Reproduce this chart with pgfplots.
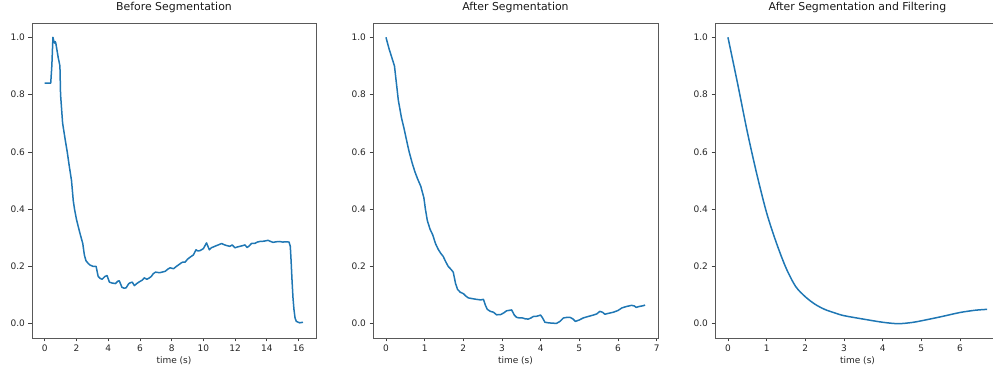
\documentclass[border=0pt]{standalone}
\usepackage{fontspec}
\setmainfont{DejaVu Sans}
\usepackage{pgfplots}
\pgfplotsset{compat=1.18}
\definecolor{mplblue}{HTML}{1F77B4}
\pgfplotsset{mystyle/.style={
  scale only axis, height=315pt, anchor=south west,
  axis line style={black!65, line width=0.7pt},
  every tick/.style={black!75, line width=0.7pt},
  tick align=outside, major tick length=3.5pt,
  xtick pos=bottom, ytick pos=left,
  ymin=-0.05, ymax=1.05,
  ytick={0,0.2,0.4,0.6,0.8,1.0},
  yticklabel style={/pgf/number format/.cd, fixed, fixed zerofill, precision=1},
  /pgf/number format/assume math mode=true,
  ticklabel style={font=\fontsize{9}{10}\selectfont, text=black!85},
  title style={font=\fontsize{10.9}{12}\selectfont, text=black!90, at={(0.5,1)}, anchor=base, yshift=6pt},
  xlabel={time (s)},
  xlabel style={font=\fontsize{9}{10}\selectfont, text=black!85, at={(0.5,0)}, anchor=base, yshift=-26pt},
  every axis plot post/.append style={mplblue, line width=1.5pt, line join=round, mark=none},
}}
\begin{document}
\begin{tikzpicture}
\path[use as bounding box] (0,0) rectangle (993pt,371pt);
\begin{axis}[mystyle, at={(32pt,33pt)}, width=284pt,
  title={Before Segmentation},
  xmin=-0.8, xmax=17.1, xtick={0,2,...,16}]
\addplot coordinates {
(0,0.84) (0.2,0.84) (0.38,0.84) (0.45,0.9) (0.52,1.0) (0.58,0.985) (0.62,0.98) (0.66,0.985) (0.7,0.98)
(0.85,0.93) (0.96,0.9) (1.0,0.8) (1.13,0.7) (1.3,0.64) (1.42,0.6) (1.55,0.55) (1.69,0.5) (1.8,0.43) (1.88,0.4)
(2.0,0.365) (2.11,0.34) (2.25,0.31) (2.4,0.28) (2.5,0.24) (2.6,0.22) (2.75,0.21) (2.85,0.205) (3.05,0.2) (3.24,0.2)
(3.37,0.165) (3.5,0.158) (3.62,0.155) (3.8,0.165) (3.93,0.168) (4.08,0.145) (4.25,0.142) (4.46,0.14) (4.6,0.148) (4.7,0.15)
(4.87,0.127) (5.0,0.124) (5.13,0.125) (5.3,0.14) (5.4,0.143) (5.52,0.145) (5.65,0.133) (5.85,0.142) (6.02,0.148) (6.15,0.152)
(6.28,0.16) (6.44,0.155) (6.6,0.16) (6.72,0.165) (6.85,0.175) (6.99,0.18) (7.24,0.178) (7.4,0.18) (7.6,0.183) (7.75,0.19)
(7.9,0.195) (8.12,0.192) (8.3,0.2) (8.43,0.205) (8.6,0.212) (8.7,0.215) (8.85,0.215) (9.0,0.225) (9.16,0.232) (9.37,0.24)
(9.54,0.258) (9.65,0.254) (9.79,0.255) (10.0,0.262) (10.2,0.282) (10.38,0.258) (10.5,0.265) (10.63,0.268) (10.8,0.272)
(10.94,0.275) (11.15,0.28) (11.3,0.276) (11.46,0.273) (11.67,0.27) (11.82,0.275) (11.99,0.265) (12.15,0.268) (12.3,0.27)
(12.45,0.272) (12.62,0.275) (12.76,0.266) (12.9,0.272) (13.03,0.28) (13.24,0.28) (13.4,0.285) (13.56,0.287) (13.8,0.288)
(14.08,0.291) (14.2,0.288) (14.39,0.284) (14.6,0.286) (14.81,0.287) (15.0,0.285) (15.23,0.286) (15.4,0.285) (15.48,0.27)
(15.53,0.22) (15.59,0.15) (15.65,0.09) (15.71,0.05) (15.78,0.02) (15.86,0.008) (16.07,0.003) (16.28,0.005) };
\end{axis}
\begin{axis}[mystyle, at={(373pt,33pt)}, width=285pt,
  title={After Segmentation},
  xmin=-0.335, xmax=7.035, xtick={0,1,...,7}]
\addplot coordinates {
(0,1.0) (0.08,0.96) (0.15,0.93) (0.22,0.9) (0.27,0.84) (0.32,0.78) (0.4,0.72) (0.47,0.68) (0.55,0.63) (0.6,0.6)
(0.68,0.56) (0.75,0.53) (0.82,0.505) (0.9,0.48) (0.98,0.44) (1.02,0.4) (1.07,0.36) (1.14,0.33) (1.21,0.31) (1.28,0.28)
(1.35,0.26) (1.42,0.245) (1.48,0.235) (1.55,0.215) (1.61,0.2) (1.68,0.19) (1.74,0.18) (1.8,0.14) (1.85,0.12) (1.92,0.11)
(2.0,0.105) (2.06,0.097) (2.13,0.09) (2.25,0.087) (2.34,0.085) (2.45,0.083) (2.52,0.085) (2.57,0.065) (2.62,0.05)
(2.7,0.043) (2.78,0.04) (2.86,0.031) (2.97,0.032) (3.05,0.038) (3.12,0.045) (3.25,0.048) (3.32,0.03) (3.38,0.022)
(3.45,0.02) (3.53,0.02) (3.6,0.017) (3.68,0.016) (3.75,0.02) (3.81,0.025) (3.9,0.026) (4.0,0.03) (4.05,0.02) (4.11,0.005)
(4.2,0.003) (4.28,0.002) (4.41,0.001) (4.5,0.008) (4.59,0.02) (4.68,0.022) (4.76,0.022) (4.83,0.017) (4.9,0.008) (5.0,0.013)
(5.1,0.02) (5.2,0.024) (5.36,0.03) (5.45,0.034) (5.53,0.043) (5.6,0.04) (5.66,0.033) (5.75,0.036) (5.88,0.04) (6.0,0.046)
(6.1,0.055) (6.22,0.06) (6.35,0.064) (6.42,0.062) (6.47,0.057) (6.55,0.06) (6.66,0.063) (6.7,0.065) };
\end{axis}
\begin{axis}[mystyle, at={(715pt,33pt)}, width=285pt,
  title={After Segmentation and Filtering},
  xmin=-0.335, xmax=7.035, xtick={0,1,...,6}]
\addplot+[smooth] coordinates {
(0,1.0) (0.25,0.838) (0.5,0.67) (0.75,0.52) (1.0,0.387) (1.25,0.283) (1.5,0.195) (1.75,0.13) (2.0,0.094)
(2.25,0.068) (2.5,0.05) (2.75,0.038) (3.0,0.028) (3.5,0.016) (4.0,0.005) (4.4,0.0) (4.75,0.004) (5.0,0.01)
(5.5,0.024) (6.0,0.039) (6.4,0.047) (6.7,0.05) };
\end{axis}
\end{tikzpicture}
\end{document}
